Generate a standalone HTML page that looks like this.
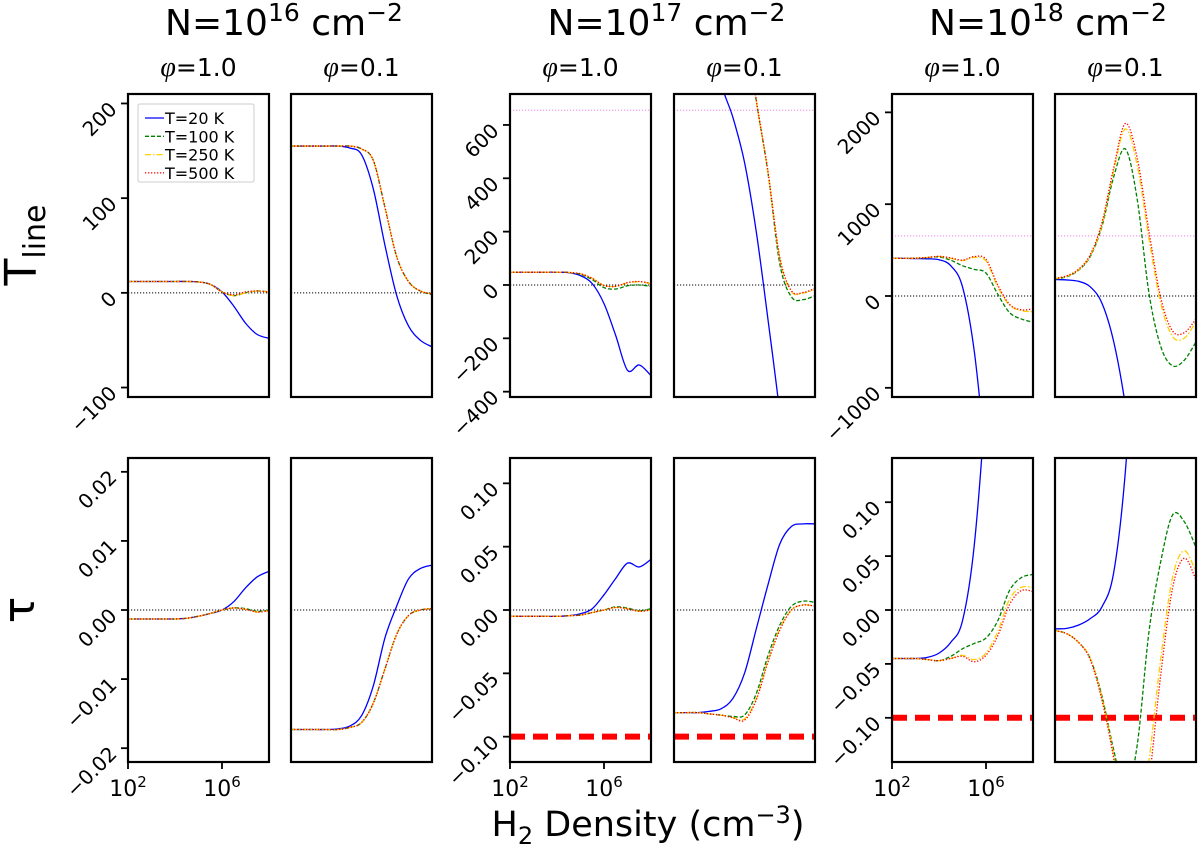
<!DOCTYPE html>
<html><head><meta charset="utf-8"><style>
html,body{margin:0;padding:0;background:#fff;overflow:hidden;width:1200px;height:853px;}
svg{display:block;}
svg text{font-family:"DejaVu Sans","Liberation Sans",sans-serif;fill:#000;}
</style></head><body>
<svg id="fig" width="1200" height="853" viewBox="0 0 1200 853" xmlns="http://www.w3.org/2000/svg">
<defs id="defs"></defs>
<g id="root"></g>
</svg>
<script>
// ===== data =====
const xLog = [2,2.5,3,3.5,4,4.5,5,5.5,6,6.5,7,7.5,8];
const seriesNames = ["T=20 K","T=100 K","T=250 K","T=500 K"];
const columnTitles = ["16","17","18"];
const phiLabels = ["φ=1.0","φ=0.1"];
const tauRef = -0.1;
const tRef = 655;
const t16a_b = [12,12,12,12,12,12,11.5,9,1,-14,-32,-44,-48];
const t16a_g = [12,12,12,12,12,12,11.5,9,1,-3,0,2,1];
const t16a_y = [12,12,12,12,12,12,11.5,9,1,-3,0,2,1];
const t16a_r = [12,12,12,12,12,12,11.5,9,1,-2,1,2,1];
const t16b_b = [155,155,155,155,155,153,146,110,50,-3,-35,-50,-57];
const t16b_g = [155,155,155,155,155,155,152,140,90,38,12,2,-2];
const t16b_y = [155,155,155,155,155,155,152,140,90,38,12,2,-1];
const t16b_r = [155,155,155,155,155,155,152,140,90,38,12,2,-1];
const t17a_b = [48,48,48,48,48,46,35,5,-70,-190,-320,-300,-340];
const t17a_g = [48,48,48,48,48,47,40,20,-10,-15,-3,0,-5];
const t17a_y = [48,48,48,48,48,47,42,25,-2,-5,8,12,5];
const t17a_r = [48,48,48,48,48,47,42,25,-2,-5,9,13,6];
const t17b_b = [1700,1500,1250,1000,760,630,460,200,-130,-480,-900,-1200,-1400];
const t17b_g = [3000,2800,2500,2200,1800,1400,1000,690,420,80,-45,-55,-40];
const t17b_y = [3000,2800,2500,2200,1800,1400,1000,690,420,100,-25,-30,-17];
const t17b_r = [3000,2800,2500,2200,1800,1400,1000,695,425,105,-22,-28,-13];
const t18a_b = [410,410,408,405,395,330,100,-600,-1800,-3000,-4000,-5000,-6000];
const t18a_g = [410,410,412,418,425,390,330,290,250,20,-180,-250,-285];
const t18a_y = [410,410,412,420,430,410,385,420,380,100,-100,-160,-170];
const t18a_r = [410,410,412,420,432,415,390,430,400,120,-90,-150,-140];
const t18b_b = [180,175,160,100,-80,-500,-1200,-2200,-3200,-4200,-5200,-6200,-7200];
const t18b_g = [185,210,280,430,760,1300,1600,1050,30,-550,-760,-700,-500];
const t18b_y = [190,215,285,440,780,1370,1820,1420,620,-80,-440,-460,-280];
const t18b_r = [190,220,290,450,800,1400,1880,1500,700,-20,-380,-400,-250];
const u16a_b = [-0.0013,-0.0013,-0.0013,-0.0013,-0.0013,-0.0012,-0.0009,-0.0005,0,0.0012,0.0032,0.0048,0.0056];
const u16a_g = [-0.0013,-0.0013,-0.0013,-0.0013,-0.0013,-0.0012,-0.0009,-0.0005,0,0.0003,0.0002,-0.0002,0];
const u16a_y = [-0.0013,-0.0013,-0.0013,-0.0013,-0.0013,-0.0012,-0.0009,-0.0005,0,0.0003,0.0001,-0.0003,-0.0001];
const u16a_r = [-0.0013,-0.0013,-0.0013,-0.0013,-0.0013,-0.0012,-0.0009,-0.0005,0,0.0003,0.0001,-0.0003,-0.0001];
const u16b_b = [-0.0173,-0.0173,-0.0173,-0.0173,-0.0172,-0.0168,-0.0153,-0.011,-0.004,0.0006,0.0045,0.006,0.0065];
const u16b_g = [-0.0173,-0.0173,-0.0173,-0.0173,-0.0173,-0.017,-0.0163,-0.0135,-0.0085,-0.0035,-0.0008,0,0.0002];
const u16b_y = [-0.0173,-0.0173,-0.0173,-0.0173,-0.0173,-0.017,-0.0163,-0.0135,-0.0085,-0.0035,-0.0008,0,0.0002];
const u16b_r = [-0.0173,-0.0173,-0.0173,-0.0173,-0.0173,-0.017,-0.0163,-0.0135,-0.0085,-0.0035,-0.0008,0,0.0002];
const u17a_b = [-0.005,-0.005,-0.005,-0.005,-0.005,-0.0045,-0.003,0.001,0.012,0.025,0.037,0.034,0.040];
const u17a_g = [-0.005,-0.005,-0.005,-0.005,-0.005,-0.0045,-0.004,-0.002,0,0.0025,0.0015,-0.0005,0.001];
const u17a_y = [-0.005,-0.005,-0.005,-0.005,-0.005,-0.0045,-0.004,-0.002,0,0.002,0.001,-0.001,0];
const u17a_r = [-0.005,-0.005,-0.005,-0.005,-0.005,-0.0045,-0.004,-0.002,0,0.002,0.001,-0.001,0];
const u17b_b = [-0.081,-0.081,-0.081,-0.080,-0.078,-0.07,-0.05,-0.015,0.02,0.052,0.066,0.068,0.068];
const u17b_g = [-0.081,-0.081,-0.081,-0.082,-0.083,-0.084,-0.083,-0.066,-0.036,-0.012,0.003,0.007,0.006];
const u17b_y = [-0.081,-0.081,-0.081,-0.082,-0.083,-0.085,-0.086,-0.07,-0.04,-0.015,0,0.004,0.003];
const u17b_r = [-0.081,-0.081,-0.081,-0.082,-0.083,-0.085,-0.087,-0.071,-0.041,-0.016,0,0.004,0.003];
const u18a_b = [-0.045,-0.045,-0.045,-0.044,-0.04,-0.03,-0.01,0.06,0.2,0.4,0.6,0.8,1.0];
const u18a_g = [-0.045,-0.045,-0.045,-0.046,-0.047,-0.043,-0.036,-0.031,-0.026,-0.01,0.018,0.03,0.033];
const u18a_y = [-0.045,-0.045,-0.045,-0.046,-0.047,-0.045,-0.042,-0.046,-0.04,-0.02,0.01,0.021,0.021];
const u18a_r = [-0.045,-0.045,-0.045,-0.046,-0.047,-0.045,-0.043,-0.048,-0.042,-0.024,0.005,0.018,0.017];
const u18b_b = [-0.0175,-0.017,-0.014,-0.008,0.003,0.035,0.13,0.3,0.5,0.7,0.9,1.1,1.3];
const u18b_g = [-0.019,-0.022,-0.03,-0.045,-0.08,-0.13,-0.17,-0.125,-0.02,0.045,0.088,0.082,0.058];
const u18b_y = [-0.019,-0.022,-0.03,-0.045,-0.082,-0.135,-0.2,-0.22,-0.14,-0.045,0.03,0.055,0.035];
const u18b_r = [-0.019,-0.022,-0.03,-0.046,-0.084,-0.138,-0.21,-0.24,-0.16,-0.06,0.02,0.048,0.028];
const topTicks16 = [-100,0,100,200];
const topTicks17 = [-400,-200,0,200,400,600];
const topTicks18 = [-1000,0,1000,2000];
const botTicks16 = [-0.02,-0.01,0.00,0.01,0.02];
const botTicks17 = [-0.10,-0.05,0.00,0.05,0.10];
const botTicks18 = [-0.10,-0.05,0.00,0.05,0.10];
const xTickVals = [2,6];

// ===== layout =====
const NS="http://www.w3.org/2000/svg";
const root=document.getElementById('root');
const defs=document.getElementById('defs');
const colLefts=[128,291,510,674,892,1055];
const PW=141;
const rows=[{top:94,bot:397},{top:458,bot:762}];
const topRanges=[[-110,210],[-110,210],[-420,716],[-420,716],[-1100,2200],[-1100,2200]];
const botRanges=[[-0.022,0.022],[-0.022,0.022],[-0.12,0.12],[-0.12,0.12],[-0.141,0.141],[-0.141,0.141]];
const topData=[[t16a_b,t16a_g,t16a_y,t16a_r],[t16b_b,t16b_g,t16b_y,t16b_r],[t17a_b,t17a_g,t17a_y,t17a_r],[t17b_b,t17b_g,t17b_y,t17b_r],[t18a_b,t18a_g,t18a_y,t18a_r],[t18b_b,t18b_g,t18b_y,t18b_r]];
const botData=[[u16a_b,u16a_g,u16a_y,u16a_r],[u16b_b,u16b_g,u16b_y,u16b_r],[u17a_b,u17a_g,u17a_y,u17a_r],[u17b_b,u17b_g,u17b_y,u17b_r],[u18a_b,u18a_g,u18a_y,u18a_r],[u18b_b,u18b_g,u18b_y,u18b_r]];
const topTicks=[topTicks16,null,topTicks17,null,topTicks18,null];
const botTicks=[botTicks16,null,botTicks17,null,botTicks18,null];
const styles=[{c:'#0000ff',d:''},{c:'#008000',d:'4,2'},{c:'#ffd000',d:'6,2,1.5,2'},{c:'#ff0000',d:'1.3,1.7'}];

function mk(tag,attrs,parent){const e=document.createElementNS(NS,tag);for(const k in attrs)e.setAttribute(k,attrs[k]);(parent||root).appendChild(e);return e;}
function smooth(pts){
  let d='M'+pts[0][0].toFixed(2)+','+pts[0][1].toFixed(2);
  for(let i=0;i<pts.length-1;i++){
    const p0=pts[Math.max(0,i-1)],p1=pts[i],p2=pts[i+1],p3=pts[Math.min(pts.length-1,i+2)];
    const c1x=p1[0]+(p2[0]-p0[0])/6,c1y=p1[1]+(p2[1]-p0[1])/6;
    const c2x=p2[0]-(p3[0]-p1[0])/6,c2y=p2[1]-(p3[1]-p1[1])/6;
    d+=' C'+c1x.toFixed(2)+','+c1y.toFixed(2)+' '+c2x.toFixed(2)+','+c2y.toFixed(2)+' '+p2[0].toFixed(2)+','+p2[1].toFixed(2);
  }
  return d;
}
function fmt(v,isTau){
  if(!isTau) return (v<0?'\u2212':'')+Math.abs(v);
  return (v<0?'\u2212':'')+Math.abs(v).toFixed(2);
}

function panel(i,r){
  const row=rows[r];const L=colLefts[i];
  const rng=r===0?topRanges[i]:botRanges[i];
  const xs=v=>L+(v-2)/6*PW;
  const ys=v=>row.bot-(v-rng[0])/(rng[1]-rng[0])*(row.bot-row.top);
  const g=mk('g',{});
  
  
  const cid='clip'+r+'_'+i;
  const cp=mk('clipPath',{id:cid},defs);
  mk('rect',{x:L,y:row.top,width:PW,height:row.bot-row.top},cp);
  const pg=mk('g',{'clip-path':'url(#'+cid+')'},g);
  const z=mk('line',{x1:L,x2:L+PW,y1:ys(0),y2:ys(0),stroke:'#000','stroke-width':1,'stroke-dasharray':'1.2,1.8'},pg);
  
  
  if(r===0 && i>=2){
    const m=mk('line',{x1:L,x2:L+PW,y1:ys(tRef),y2:ys(tRef),stroke:'#ee82ee','stroke-width':1,'stroke-dasharray':'1.2,1.8'},pg);
    
    
  }
  if(r===1 && i>=2){
    const m=mk('line',{x1:L,x2:L+PW,y1:ys(tauRef),y2:ys(tauRef),stroke:'#ff0000','stroke-width':6,'stroke-dasharray':'15,8'},pg);
    
    
  }
  const data=r===0?topData[i]:botData[i];
  data.forEach((arr,s)=>{
    const pts=arr.map((v,k)=>[xs(xLog[k]),ys(v)]);
    const p=mk('path',{d:smooth(pts),fill:'none',stroke:styles[s].c,'stroke-width':1.3},pg);
    if(styles[s].d)p.setAttribute('stroke-dasharray',styles[s].d);
    
    
  });
  const fr=mk('rect',{x:L,y:row.top,width:PW,height:row.bot-row.top,fill:'none',stroke:'#000','stroke-width':2.2},g);
  
  
  const ticks=r===0?topTicks[i]:botTicks[i];
  if(ticks){
    ticks.forEach(t=>{
      const y=ys(t);
      mk('line',{x1:L-7,x2:L,y1:y,y2:y,stroke:'#000','stroke-width':1.8},g);
      const tx=mk('text',{x:L-10,y:y+7,'text-anchor':'end','font-size':20,transform:'rotate(-45 '+(L-10)+' '+(y+7)+')'},g);
      tx.textContent=fmt(t,r===1);
      
      
    });
    if(r===1){
      xTickVals.forEach(xv=>{
        const x=xs(xv);
        mk('line',{x1:x,x2:x,y1:row.bot,y2:row.bot+7,stroke:'#000','stroke-width':1.8},g);
        const tx=mk('text',{x:x,y:row.bot+34,'text-anchor':'middle','font-size':22},g);
        tx.innerHTML='10<tspan dy="-9" font-size="15">'+xv+'</tspan>';
        
        
      });
    }
  }
}
for(let i=0;i<6;i++){panel(i,0);panel(i,1);}

columnTitles.forEach((e,c)=>{
  const cx=(colLefts[2*c]+colLefts[2*c+1]+PW)/2+4;
  const t=mk('text',{x:cx,y:35,'text-anchor':'middle','font-size':36});
  t.innerHTML='N=10<tspan dy="-14" font-size="25">'+e+'</tspan><tspan dy="14"> cm</tspan><tspan dy="-14" font-size="25">\u22122</tspan>';
  
  
  for(let k=0;k<2;k++){
    const px=colLefts[2*c+k]+PW/2;
    const s=mk('text',{x:px,y:76,'text-anchor':'middle','font-size':25});
    s.innerHTML='<tspan font-style="italic" font-family="Liberation Serif, serif" font-size="28">φ</tspan>'+phiLabels[k].slice(1);
    
    
  }
});
const yl1=mk('text',{x:36,y:245,'text-anchor':'middle','font-size':44,transform:'rotate(-90 36 245)'});
yl1.innerHTML='T<tspan dy="9" font-size="30">line</tspan>';


const yl2=mk('text',{x:34,y:610,'text-anchor':'middle','font-size':44,transform:'rotate(-90 34 610)'});
yl2.textContent='τ';


const xl=mk('text',{x:648,y:836,'text-anchor':'middle','font-size':35});
xl.innerHTML='H<tspan dy="8" font-size="24">2</tspan><tspan dy="-8"> Density (cm</tspan><tspan dy="-13" font-size="24">\u22123</tspan><tspan dy="13">)</tspan>';


const lg=mk('g',{});


mk('rect',{x:138,y:104,width:116,height:78,fill:'#fff','fill-opacity':0.8,stroke:'#ccc','stroke-width':1,rx:2},lg);
seriesNames.forEach((n,s)=>{
  const y=118+s*18.3;
  const l=mk('line',{x1:145,x2:164,y1:y,y2:y,stroke:styles[s].c,'stroke-width':1.3},lg);
  if(styles[s].d)l.setAttribute('stroke-dasharray',styles[s].d);
  const t=mk('text',{x:165,y:y+6,'font-size':16},lg);
  t.textContent=n;
  
  
});
</script>
</body></html>
